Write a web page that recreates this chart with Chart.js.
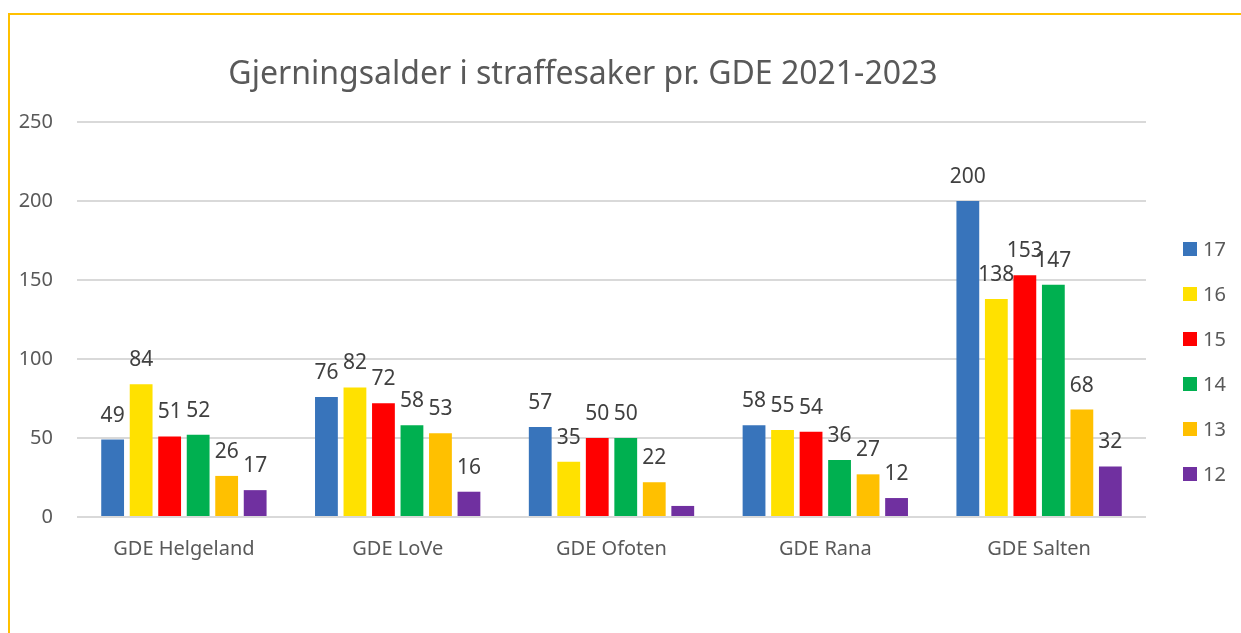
<!DOCTYPE html>
<html><head><meta charset="utf-8">
<script src="https://cdn.jsdelivr.net/npm/chart.js@4/dist/chart.umd.min.js"></script>
<style>
html,body{margin:0;padding:0;background:#fff;}
#wrap{position:relative;width:1241px;height:633px;overflow:hidden;}
#frame{position:absolute;left:8px;top:13px;right:-10px;bottom:-10px;border-left:2px solid #FFC000;border-top:2px solid #FFC000;}
canvas{position:absolute;left:0;top:0;}
</style></head><body>
<div id="wrap"><div id="frame"></div><canvas id="c" width="1241" height="633"></canvas></div>
<script>
const chartTitle = 'Gjerningsalder i straffesaker pr. GDE 2021-2023';
const categories = ['GDE Helgeland', 'GDE LoVe', 'GDE Ofoten', 'GDE Rana', 'GDE Salten'];
const seriesNames = ['17', '16', '15', '14', '13', '12'];
const s17 = [49, 76, 57, 58, 200];
const s16 = [84, 82, 35, 55, 138];
const s15 = [51, 72, 50, 54, 153];
const s14 = [52, 58, 50, 36, 147];
const s13 = [26, 53, 22, 27, 68];
const s12 = [17, 16, 7, 12, 32];
const yTicks = [0, 50, 100, 150, 200, 250];
const hiddenLabels = [{ cat: 'GDE Ofoten', series: '12' }];

const seriesValues = [s17, s16, s15, s14, s13, s12];
const colors = ['#3874BB', '#FFE100', '#FF0000', '#00B050', '#FFC000', '#7030A0'];
const FONT = '"Noto Sans", "Open Sans", sans-serif';

const titlePlugin = {
  id: 'titleText',
  afterDraw(chart) {
    const ctx = chart.ctx;
    ctx.save();
    ctx.font = '32px ' + FONT;
    ctx.fillStyle = '#595959';
    ctx.textAlign = 'center';
    ctx.textBaseline = 'alphabetic';
    ctx.fillText(chartTitle, 583, 84);
    ctx.restore();
  }
};

const labelPlugin = {
  id: 'barLabels',
  afterDatasetsDraw(chart) {
    const ctx = chart.ctx;
    ctx.save();
    ctx.font = '21px ' + FONT;
    ctx.fillStyle = '#404040';
    ctx.textAlign = 'center';
    ctx.textBaseline = 'alphabetic';
    chart.data.datasets.forEach((ds, di) => {
      const meta = chart.getDatasetMeta(di);
      meta.data.forEach((el, i) => {
        const hide = hiddenLabels.some(h => h.cat === categories[i] && h.series === ds.label);
        if (hide) return;
        ctx.fillText(String(ds.data[i]), el.x, el.y - 18);
      });
    });
    ctx.restore();
  }
};

const legendPlugin = {
  id: 'sideLegend',
  afterDraw(chart) {
    const ctx = chart.ctx;
    ctx.save();
    ctx.font = '20px ' + FONT;
    ctx.textBaseline = 'middle';
    ctx.textAlign = 'left';
    chart.data.datasets.forEach((ds, i) => {
      const cy = 249 + i * 45;
      ctx.fillStyle = ds.backgroundColor;
      ctx.fillRect(1183, cy - 7, 14, 14);
      ctx.fillStyle = '#595959';
      ctx.fillText(ds.label, 1203, cy + 1);
    });
    ctx.restore();
  }
};

new Chart(document.getElementById('c'), {
  type: 'bar',
  data: {
    labels: categories,
    datasets: seriesNames.map((n, i) => ({
      label: n,
      data: seriesValues[i],
      backgroundColor: colors[i],
      borderWidth: 0,
      categoryPercentage: 0.8,
      barPercentage: 0.8
    }))
  },
  options: {
    responsive: false,
    animation: false,
    devicePixelRatio: 1,
    layout: { padding: { left: 10, right: 95, top: 122, bottom: 66 } },
    plugins: { legend: { display: false }, title: { display: false }, tooltip: { enabled: false } },
    scales: {
      x: {
        grid: { display: false, drawTicks: false },
        border: { display: false },
        ticks: { color: '#595959', font: { family: FONT, size: 20 }, padding: 20, maxRotation: 0 },
        afterFit(scale) { scale.height = 50; }
      },
      y: {
        min: 0, max: 250,
        afterBuildTicks(scale) { scale.ticks = yTicks.map(v => ({ value: v })); },
        grid: { color: '#D9D9D9', lineWidth: 2, drawTicks: false },
        border: { display: false },
        ticks: { color: '#595959', font: { family: FONT, size: 20 }, padding: 24 },
        afterFit(scale) { scale.width = 67; }
      }
    }
  },
  plugins: [titlePlugin, labelPlugin, legendPlugin]
});
</script>
</body></html>
